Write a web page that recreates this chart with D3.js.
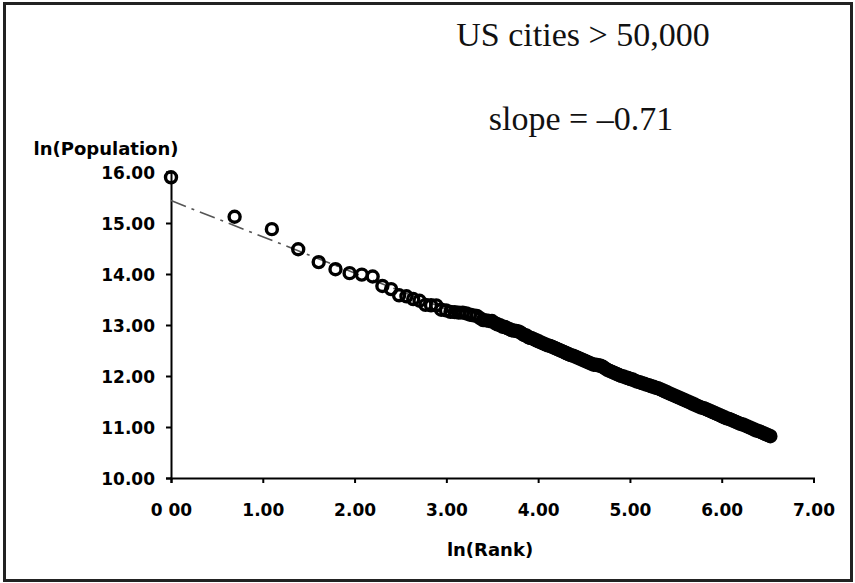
<!DOCTYPE html>
<html>
<head>
<meta charset="utf-8">
<script src="https://cdn.jsdelivr.net/npm/d3@7"></script>
<style>
  body { margin: 0; background: #fff; }
  svg { display: block; }
</style>
</head>
<body>
<svg id="chart" width="855" height="583"></svg>
<script>
// ---- data ----
const lnRank = [
  0.000, 0.693, 1.099, 1.386, 1.609, 1.792, 1.946, 2.079, 2.197, 2.303,
  2.398, 2.485, 2.565, 2.639, 2.708, 2.773, 2.833, 2.890, 2.944, 2.996,
  3.045, 3.091, 3.135, 3.178, 3.219, 3.258, 3.296, 3.332, 3.367, 3.401,
  3.434, 3.466, 3.497, 3.526, 3.555, 3.584, 3.611, 3.638, 3.664, 3.689,
  3.714, 3.738, 3.761, 3.784, 3.807, 3.829, 3.850, 3.871, 3.892, 3.912,
  3.930, 3.955, 3.980, 4.005, 4.030, 4.055, 4.080, 4.105, 4.130, 4.155,
  4.180, 4.205, 4.230, 4.255, 4.280, 4.305, 4.330, 4.355, 4.380, 4.405,
  4.430, 4.455, 4.480, 4.505, 4.530, 4.555, 4.580, 4.605, 4.630, 4.655,
  4.680, 4.705, 4.730, 4.755, 4.780, 4.805, 4.830, 4.855, 4.880, 4.905,
  4.930, 4.955, 4.980, 5.005, 5.030, 5.055, 5.080, 5.105, 5.130, 5.155,
  5.180, 5.205, 5.230, 5.255, 5.280, 5.305, 5.330, 5.355, 5.380, 5.405,
  5.430, 5.455, 5.480, 5.505, 5.530, 5.555, 5.580, 5.605, 5.630, 5.655,
  5.680, 5.705, 5.730, 5.755, 5.780, 5.805, 5.830, 5.855, 5.880, 5.905,
  5.930, 5.955, 5.980, 6.005, 6.030, 6.055, 6.080, 6.105, 6.130, 6.155,
  6.180, 6.205, 6.230, 6.255, 6.280, 6.305, 6.330, 6.355, 6.380, 6.405,
  6.430, 6.455, 6.480, 6.505, 6.530
];
const lnPopulation = [
  15.896, 15.122, 14.879, 14.485, 14.233, 14.094, 14.017, 13.988, 13.951, 13.766,
  13.704, 13.582, 13.563, 13.509, 13.475, 13.395, 13.386, 13.385, 13.300, 13.286,
  13.257, 13.253, 13.242, 13.242, 13.226, 13.201, 13.189, 13.179, 13.135, 13.095,
  13.091, 13.078, 13.078, 13.042, 13.014, 12.998, 12.966, 12.961, 12.940, 12.917,
  12.898, 12.890, 12.882, 12.874, 12.855, 12.826, 12.801, 12.796, 12.760, 12.749,
  12.74, 12.72, 12.70, 12.68, 12.66, 12.64, 12.62, 12.60, 12.59, 12.57,
  12.55, 12.53, 12.51, 12.49, 12.47, 12.45, 12.43, 12.41, 12.40, 12.38,
  12.36, 12.34, 12.32, 12.30, 12.28, 12.26, 12.24, 12.22, 12.22, 12.21,
  12.20, 12.18, 12.15, 12.12, 12.10, 12.08, 12.06, 12.04, 12.02, 12.00,
  11.99, 11.97, 11.96, 11.94, 11.93, 11.91, 11.89, 11.88, 11.86, 11.85,
  11.83, 11.82, 11.80, 11.79, 11.77, 11.76, 11.74, 11.72, 11.70, 11.68,
  11.66, 11.64, 11.62, 11.60, 11.58, 11.56, 11.54, 11.52, 11.50, 11.48,
  11.46, 11.44, 11.42, 11.40, 11.38, 11.37, 11.35, 11.33, 11.31, 11.29,
  11.27, 11.25, 11.23, 11.21, 11.19, 11.17, 11.16, 11.14, 11.12, 11.10,
  11.08, 11.06, 11.05, 11.03, 11.01, 10.99, 10.97, 10.95, 10.93, 10.92,
  10.90, 10.88, 10.86, 10.84, 10.82
];
const xTickValues = [0, 1, 2, 3, 4, 5, 6, 7];
const xTickLabels = ["0 00", "1.00", "2.00", "3.00", "4.00", "5.00", "6.00", "7.00"];
const yTickValues = [10, 11, 12, 13, 14, 15, 16];
const yTickLabels = ["10.00", "11.00", "12.00", "13.00", "14.00", "15.00", "16.00"];
const titleText = "US cities > 50,000";
const slopeText = "slope = \u20130.71";
const xAxisTitle = "ln(Rank)";
const yAxisTitle = "ln(Population)";
const trendSlope = -0.71;
const trendIntercept = 15.44;

// ---- drawing ----
const svg = d3.select("#chart");
const W = 855, H = 583;

svg.append("rect").attr("width", W).attr("height", H).attr("fill", "#fff");
svg.append("rect")
  .attr("x", 4.5).attr("y", 3.5).attr("width", 847).attr("height", 577)
  .attr("fill", "none").attr("stroke", "#222").attr("stroke-width", 3);

const x = d3.scaleLinear().domain([0, 7]).range([171, 813.5]);
const y = d3.scaleLinear().domain([10, 16]).range([478, 172]);

const tickFont = "'DejaVu Sans', Verdana, sans-serif";

// x axis
const gx = svg.append("g").attr("transform", `translate(0,${y(10)})`)
  .call(d3.axisBottom(x).tickValues(xTickValues)
    .tickFormat((d, i) => xTickLabels[i]).tickSizeOuter(0).tickSize(5));
gx.select(".domain").attr("stroke", "#000").attr("stroke-width", 2);
gx.selectAll(".tick line").attr("stroke", "#000").attr("stroke-width", 2);
gx.selectAll(".tick text")
  .attr("y", 38).attr("dy", null)
  .attr("fill", "#000")
  .style("font-family", tickFont).style("font-weight", "bold").style("font-size", "17px");

// y axis
const gy = svg.append("g").attr("transform", `translate(${x(0)},0)`)
  .call(d3.axisLeft(y).tickValues(yTickValues)
    .tickFormat((d, i) => yTickLabels[i]).tickSizeOuter(0).tickSize(5));
gy.select(".domain").attr("stroke", "#000").attr("stroke-width", 2);
gy.selectAll(".tick line").attr("stroke", "#000").attr("stroke-width", 2);
gy.selectAll(".tick text")
  .attr("x", -16).attr("dy", "0.36em")
  .attr("fill", "#000")
  .style("font-family", tickFont).style("font-weight", "bold").style("font-size", "17px");

// trend line
const xMax = d3.max(lnRank);
svg.append("line")
  .attr("x1", x(0)).attr("y1", y(trendIntercept))
  .attr("x2", x(xMax)).attr("y2", y(trendIntercept + trendSlope * xMax))
  .attr("stroke", "#555").attr("stroke-width", 1.6)
  .attr("stroke-dasharray", "16,6,3,6");

// points
const pts = lnRank.map((r, i) => ({ r, p: lnPopulation[i] }));
svg.append("g").selectAll("circle").data(pts).join("circle")
  .attr("cx", d => x(d.r)).attr("cy", d => y(d.p))
  .attr("r", 5.5)
  .attr("fill", "none").attr("stroke", "#000").attr("stroke-width", 3.4);

// texts
svg.append("text").attr("x", 583).attr("y", 46).attr("text-anchor", "middle")
  .style("font-family", "'Liberation Serif', 'Times New Roman', serif")
  .style("font-size", "34px").attr("fill", "#111").text(titleText);
svg.append("text").attr("x", 581).attr("y", 130).attr("text-anchor", "middle")
  .style("font-family", "'Liberation Serif', 'Times New Roman', serif")
  .style("font-size", "34px").attr("fill", "#111").text(slopeText);

svg.append("text").attr("x", 106).attr("y", 155).attr("text-anchor", "middle")
  .style("font-family", tickFont).style("font-weight", "bold").style("font-size", "18px")
  .attr("fill", "#000").text(yAxisTitle);
svg.append("text").attr("x", 490).attr("y", 556).attr("text-anchor", "middle")
  .style("font-family", tickFont).style("font-weight", "bold").style("font-size", "18px")
  .attr("fill", "#000").text(xAxisTitle);
</script>
</body>
</html>
